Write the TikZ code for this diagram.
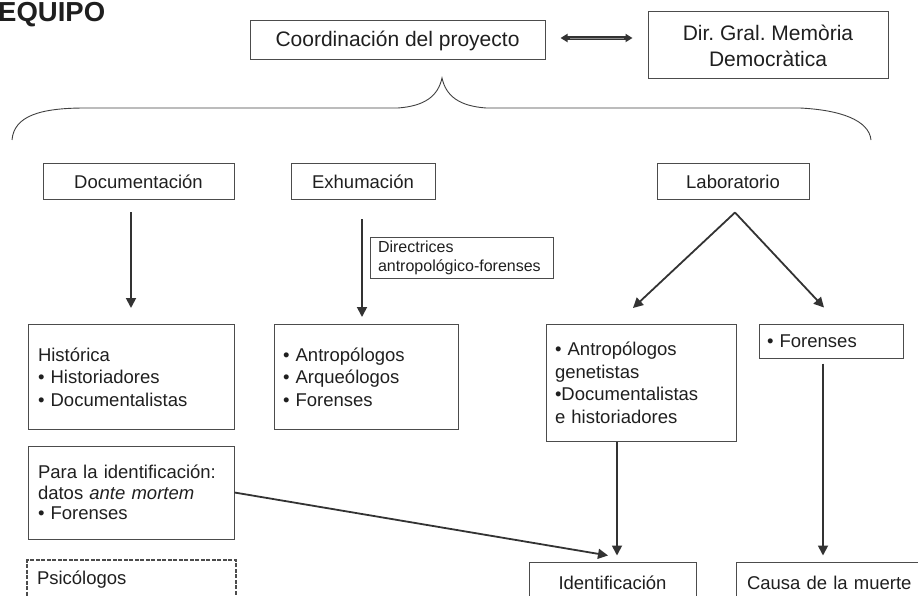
\documentclass[tikz,border=0pt]{standalone}
\usepackage{fontspec}
\setmainfont{Liberation Sans}
\usetikzlibrary{arrows.meta}
\frenchspacing
\begin{document}
\begin{tikzpicture}[x=1pt,y=-1pt,
  box/.style={draw=black!70, line width=1pt, inner ysep=0pt, inner xsep=0pt, text=black!88},
  big/.style={font=\fontsize{21}{26}\selectfont},
  mid/.style={font=\fontsize{18.5}{22.5}\selectfont},
  small/.style={font=\fontsize{16}{19}\selectfont},
  arr/.style={draw=black!80, line width=1.8pt, -{Triangle[length=10pt,width=10pt]}},
  bracestyle/.style={draw=black!75, line width=0.9pt},
]
\useasboundingbox (0,0) rectangle (918,596);
\clip (0,0) rectangle (918,596);

% title
\node[anchor=north west, inner sep=0pt, text=black!88,
      font=\bfseries\fontsize{27.5}{30}\selectfont] (title) at (-2,2.5) {EQUIPO};

% top row
\node[box,big,minimum width=295pt,minimum height=39pt] (coord) at (397.5,40.5) {Coordinación del proyecto};
\node[box,big,align=center,minimum width=240pt,minimum height=67pt] (dir) at (768,45.5) {Dir. Gral. Memòria\\Democràtica};

% double arrow
\draw[draw=black!80, line width=3.4pt, {Triangle[length=7pt,width=8pt]}-{Triangle[length=7pt,width=8pt]},
      shorten <=15pt, shorten >=15pt]
  ([yshift=2.5pt]coord.east) -- ([yshift=2.5pt]coord.east -| dir.west);
\draw[draw=black!45, line width=0.7pt, shorten <=24pt, shorten >=24pt]
  ([yshift=2.5pt]coord.east) -- ([yshift=2.5pt]coord.east -| dir.west);

% brace
\coordinate (bl) at (12,140);
\coordinate (br) at (871,140);
\coordinate (btip) at (442,78);
\draw[bracestyle] (bl) .. controls (14,116) and (40,108) .. (85,108) -- (398,108)
  .. controls (425,106) and (438,96) .. (btip)
  .. controls (446,96) and (459,106) .. (486,108) -- (800,108)
  .. controls (840,110) and (869,120) .. (br);

% middle row
\node[box,mid,minimum width=191pt,minimum height=36pt] (doc) at (138.5,182) {Documentación};
\node[box,mid,minimum width=144pt,minimum height=36pt] (exh) at (363,182) {Exhumación};
\node[box,mid,minimum width=152pt,minimum height=36pt] (lab) at (733,182) {Laboratorio};

\node[box,small,inner xsep=8pt,text width=167pt,align=left,minimum width=183pt,minimum height=41pt] (dirc) at (461.5,257.5)
  {Directrices\\antropológico-forenses};

% content boxes
\node[box,mid,inner xsep=10pt,text width=186pt,align=left,minimum width=206pt,minimum height=105pt] (hist) at (131,377)
  {Histórica\\• Historiadores\\• Documentalistas};
\node[box,mid,inner xsep=9pt,text width=166pt,align=left,minimum width=184pt,minimum height=105pt] (exc) at (366,377)
  {• Antropólogos\\• Arqueólogos\\• Forenses};
\node[box,mid,inner xsep=9pt,text width=172pt,align=left,minimum width=190pt,minimum height=117pt] (antr) at (641,383)
  {• Antropólogos\\genetistas\\•Documentalistas\\e historiadores};
\node[box,mid,inner xsep=8pt,text width=128pt,align=left,minimum width=144pt,minimum height=34pt] (forr) at (831,341)
  {• Forenses};
\node[box,font=\fontsize{18.5}{20.5}\selectfont,inner xsep=10pt,text width=186pt,align=left,minimum width=206pt,minimum height=93pt] (para) at (131,492.5)
  {Para la identificación:\\datos \textit{ante mortem}\\• Forenses};
\node[box,mid,line width=1.6pt,dash pattern=on 4pt off 1.5pt,inner xsep=10pt,text width=189pt,align=left,minimum width=209pt,minimum height=40pt] (psi) at (131.5,580)
  {Psicólogos};

% bottom row
\node[box,mid,minimum width=167pt,minimum height=42pt] (iden) at (612.5,583) {Identificación};
\node[box,mid,inner xsep=11pt,text width=167pt,align=left,minimum width=189pt,minimum height=42pt] (causa) at (830.5,583) {Causa de la muerte};

% arrows
\draw[arr, shorten <=12pt, shorten >=16pt] (doc.south -| hist.north) -- (hist.north);
\draw[arr, shorten <=19pt, shorten >=7pt] ([xshift=-1pt]exh.south) -- ([xshift=-1pt]exh.south |- exc.north);

\coordinate (apex) at ([xshift=2pt,yshift=-12pt]lab.south);
\coordinate (tipL) at ([xshift=-8pt,yshift=16pt]antr.north);
\coordinate (tipR) at ([xshift=-7pt,yshift=16pt]forr.north);
\draw[arr] (apex) -- (tipL);
\draw[arr] (apex) -- (tipR);

\draw[arr, shorten >=6pt] ([xshift=-24pt]antr.south) -- ([xshift=-24pt]antr.south |- iden.north);
\draw[arr, shorten <=5pt, shorten >=6pt] ([xshift=-8pt]forr.south) -- ([xshift=-8pt]forr.south |- causa.north);
\draw[arr] (para.east) -- ([xshift=-4.5pt,yshift=6pt]iden.north);
\end{tikzpicture}
\end{document}
